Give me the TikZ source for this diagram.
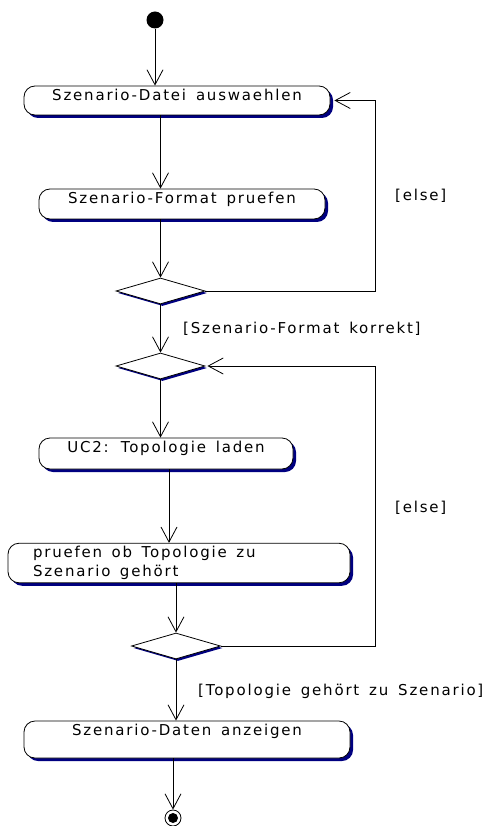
\documentclass[tikz,border=0pt]{standalone}
\usepackage{fontspec}
\setmainfont{DejaVu Sans}[LetterSpace=12, WordSpace=1.5]
\usetikzlibrary{arrows.meta,shapes.geometric,shadows}
\definecolor{shadowblue}{RGB}{0,0,128}

\tikzset{
	act/.style={draw, fill=white, rounded corners=11pt, line width=0.8pt,
		inner xsep=0pt, inner ysep=3pt,
		drop shadow={shadow xshift=3pt, shadow yshift=-3pt, fill=shadowblue, opacity=1}},
	oneline/.style={text height=11.5pt},
	branch/.style={diamond, draw, fill=white, line width=0.8pt, inner sep=0pt,
		minimum width=89pt, minimum height=26pt,
		drop shadow={shadow xshift=2pt, shadow yshift=-2pt, fill=shadowblue, opacity=1}},
	flow/.style={line width=0.8pt, -{Straight Barb[length=15pt,width=16pt]}},
	guard/.style={anchor=base west, inner sep=0pt}
}

\begin{document}
\begin{tikzpicture}[x=1pt, y=-1pt, every node/.style={font=\fontsize{15}{19}\selectfont}]
		\useasboundingbox (0,0) rectangle (490,826);

		% start and end
		\node[circle, fill=black, minimum size=17pt, inner sep=0pt] (start) at (155,20) {};
		\node[circle, draw, fill=white, line width=0.8pt, minimum size=16pt, inner sep=0pt] (stop) at (173,818) {};
		\fill (stop) circle (5pt);

		% activities
		\node[act, oneline, minimum width=306pt, text depth=11.5pt] (pick) at (177,100.5) {Szenario-Datei auswaehlen};
		\node[act, oneline, minimum width=286pt, text depth=12.5pt] (check) at (182,204) {Szenario-Format pruefen};
		\node[branch] (fmtok) at (160.5,291) {};
		\node[branch] (merge) at (160.5,366) {};
		\node[act, oneline, minimum width=254pt, text depth=13.5pt] (load) at (166,453.5) {UC2: Topologie laden};
		\node[act, align=left, text width=292pt, inner xsep=25pt] (match) at (179,563)
			{\spaceskip=9.5pt\relax pruefen ob Topologie zu\\Szenario gehört};
		\node[branch] (fits) at (176,646) {};
		\node[act, oneline, minimum width=326pt, text depth=19.5pt] (show) at (187,739.5) {Szenario-Daten anzeigen};

		% guards
		\node[guard] (else1) at (395,201) {[else]};
		\node[guard] (fmtlabel) at (183,333) {[Szenario-Format korrekt]};
		\node[guard] (else2) at (395,512) {[else]};
		\node[guard] (fitlabel) at (198,695) {[Topologie gehört zu Szenario]};

		% flow
		\draw[flow] (start) -- (start |- pick.north);
		\draw[flow] (fmtok |- pick.south) -- (fmtok |- check.north);
		\draw[flow] (fmtok |- check.south) -- (fmtok.north);
		\draw[flow] (fmtok) -- (merge);
		\draw[flow] (merge) -- (merge |- load.north);
		\coordinate (down) at ([xshift=3pt]load.south);
		\draw[flow] (down) -- (down |- match.north);
		\draw[flow] (fits |- match.south) -- (fits.north);
		\draw[flow] (fits) -- (fits |- show.north);
		\draw[flow] (stop |- show.south) -- (stop);

		% loops back
		\coordinate (back) at (375,0);
		\draw[flow] (fmtok.east) -- (fmtok.east -| back) -- (back |- pick.east) -- ([xshift=4pt]pick.east);
		\draw[flow] (fits.east) -- (fits.east -| back) -- (back |- merge.east) -- ([xshift=2pt]merge.east);
\end{tikzpicture}
\end{document}
